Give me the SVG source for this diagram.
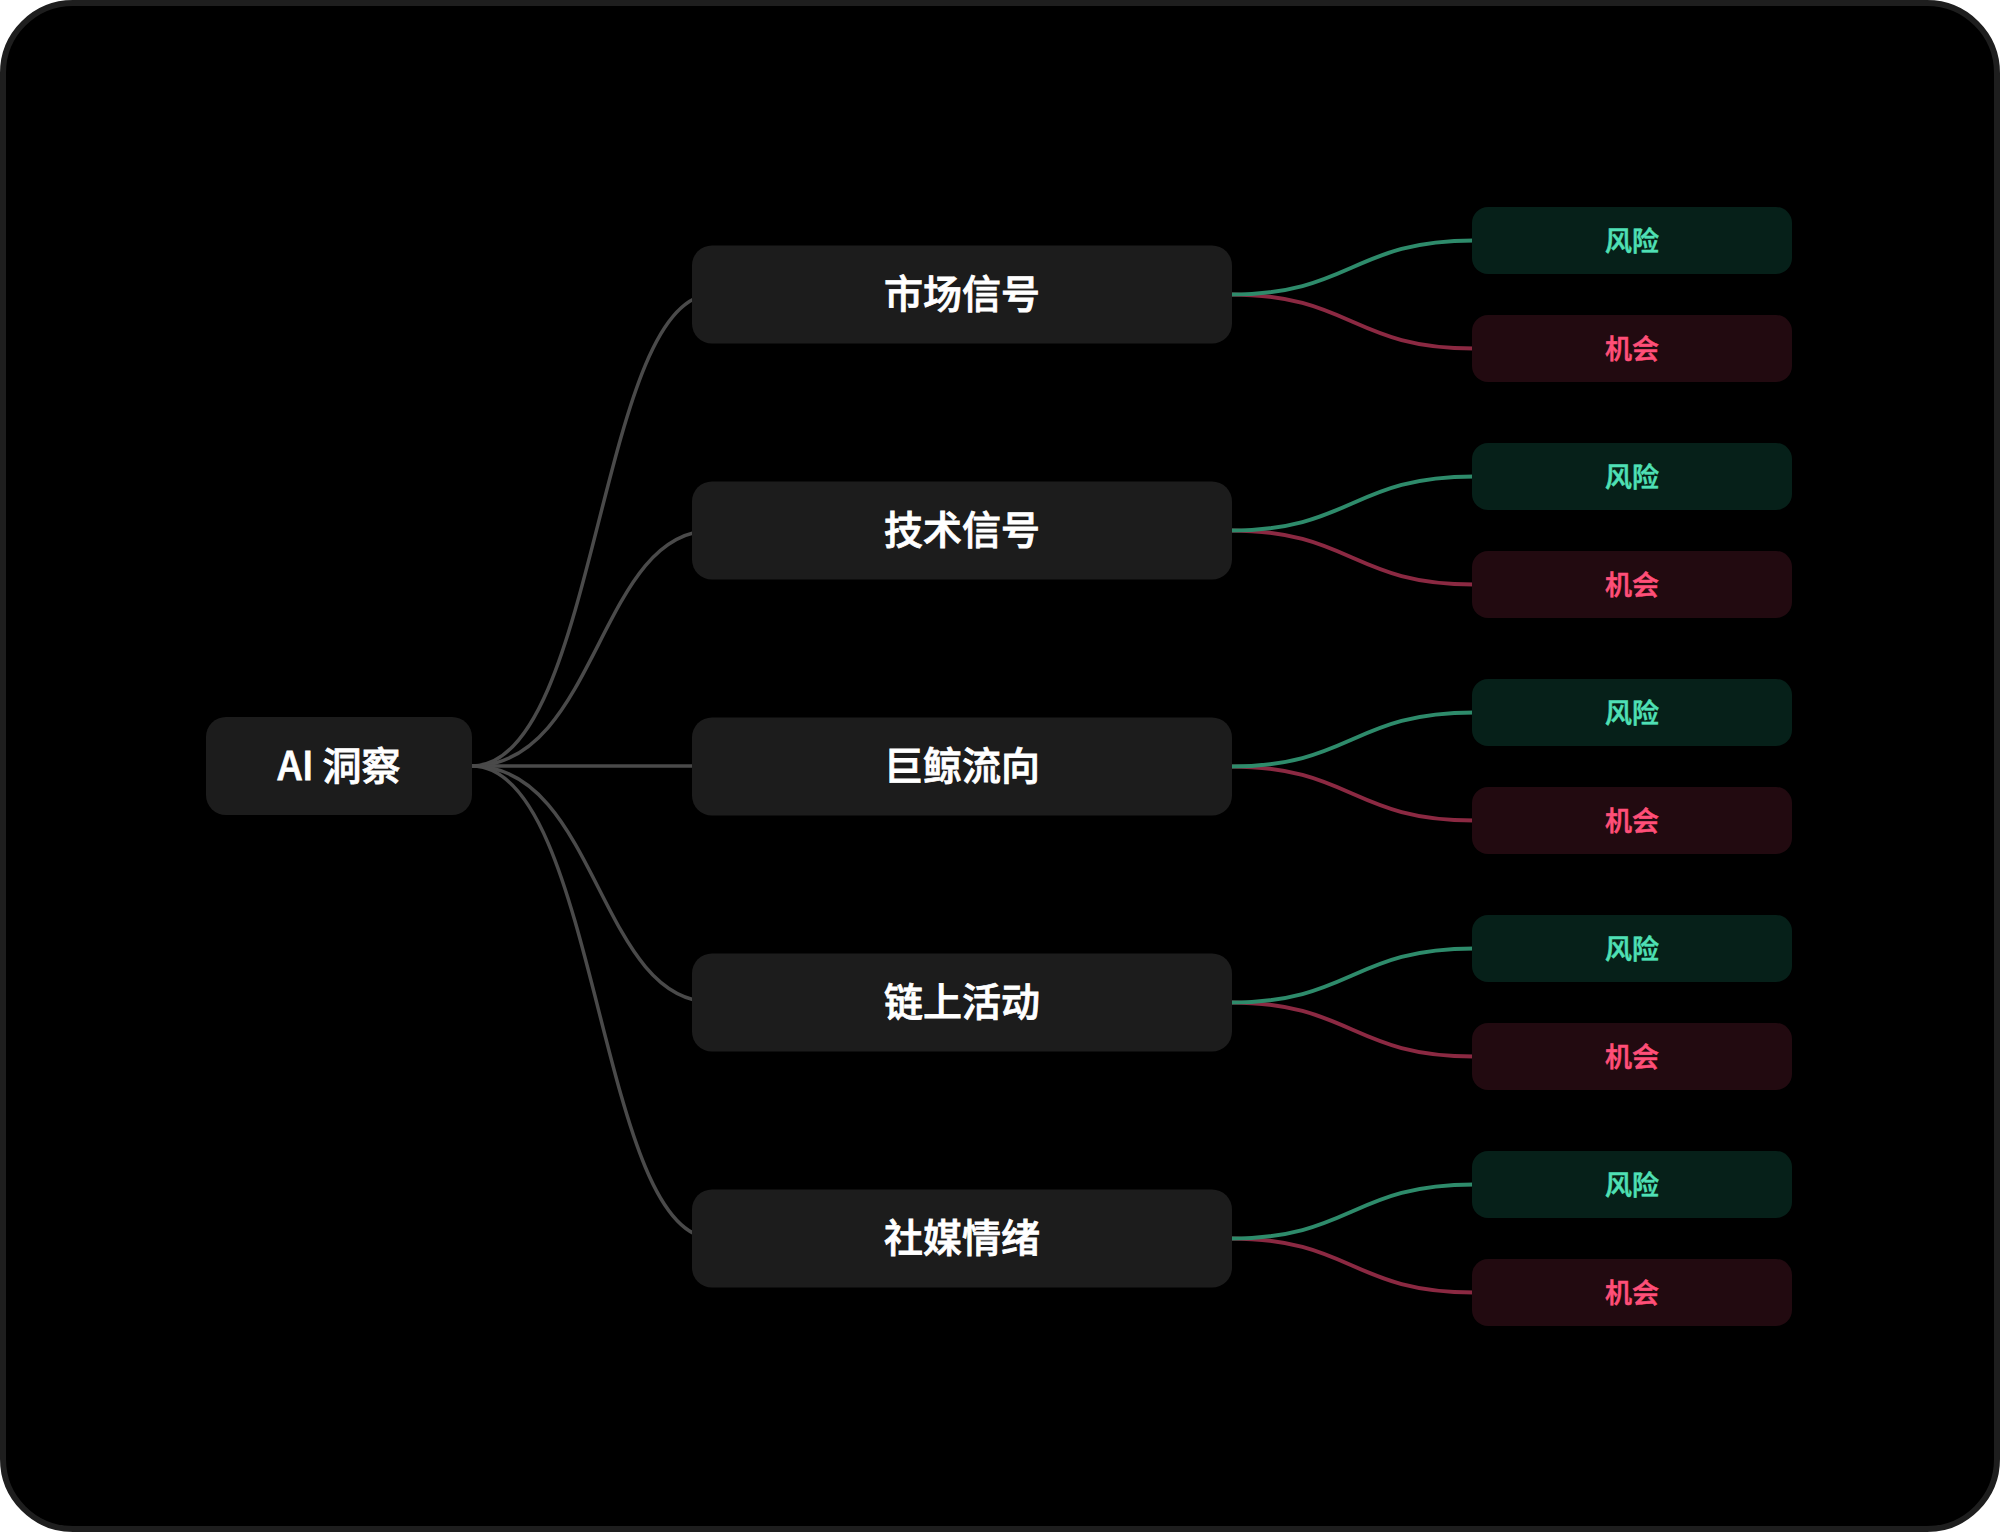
<svg xmlns="http://www.w3.org/2000/svg" width="2000" height="1532" viewBox="0 0 2000 1532">
<style>
.frame{fill:#000;stroke:#1e1e1e;stroke-width:6}
.node{fill:#1c1c1c}
.risk{fill:#062019}
.opp{fill:#220a10}
.t{font-family:"Noto Sans CJK SC","Noto Sans",sans-serif;font-weight:500;text-anchor:middle;dominant-baseline:central;stroke-width:0.8}
.tm{font-size:39px;fill:#ffffff;stroke:#ffffff}
.tr{font-size:27px;fill:#4fe0b5;stroke:#4fe0b5;stroke-width:0.6}
.to{font-size:27px;fill:#ff4f78;stroke:#ff4f78;stroke-width:0.6}
.c{fill:none;stroke:#4a4a4a;stroke-width:3.5}
.cg{fill:none;stroke:#2e8b6b;stroke-width:4}
.cr{fill:none;stroke:#8b2942;stroke-width:4}
</style>
<rect class="frame" x="3" y="3" width="1994" height="1526" rx="70"/>
<g id="connectors">
<path class="c" d="M472,766 C598,766 598,294.5 712,294.5"/>
<path class="c" d="M472,766 C598,766 598,530.5 712,530.5"/>
<path class="c" d="M472,766 L700,766"/>
<path class="c" d="M472,766 C598,766 598,1002 712,1002"/>
<path class="c" d="M472,766 C598,766 598,1238 712,1238"/>
<path class="cr" d="M1230,294.5 C1352,294.5 1352,348.5 1474,348.5"/>
<path class="cg" d="M1230,294.5 C1352,294.5 1352,240.5 1474,240.5"/>
<path class="cr" d="M1230,530.5 C1352,530.5 1352,584.5 1474,584.5"/>
<path class="cg" d="M1230,530.5 C1352,530.5 1352,476.5 1474,476.5"/>
<path class="cr" d="M1230,766.5 C1352,766.5 1352,820.5 1474,820.5"/>
<path class="cg" d="M1230,766.5 C1352,766.5 1352,712.5 1474,712.5"/>
<path class="cr" d="M1230,1002.5 C1352,1002.5 1352,1056.5 1474,1056.5"/>
<path class="cg" d="M1230,1002.5 C1352,1002.5 1352,948.5 1474,948.5"/>
<path class="cr" d="M1230,1238.5 C1352,1238.5 1352,1292.5 1474,1292.5"/>
<path class="cg" d="M1230,1238.5 C1352,1238.5 1352,1184.5 1474,1184.5"/>
</g>
<g id="root">
<rect class="node" x="206" y="717" width="266" height="98" rx="20"/>
<text class="t tm" x="339" y="763">AI 洞察</text>
</g>
<g id="n1">
<rect class="node" x="692" y="245.5" width="540" height="98" rx="20"/>
<text class="t tm" x="962" y="291">市场信号</text>
</g>
<g id="n2">
<rect class="node" x="692" y="481.5" width="540" height="98" rx="20"/>
<text class="t tm" x="962" y="527">技术信号</text>
</g>
<g id="n3">
<rect class="node" x="692" y="717.5" width="540" height="98" rx="20"/>
<text class="t tm" x="962" y="763">巨鲸流向</text>
</g>
<g id="n4">
<rect class="node" x="692" y="953.5" width="540" height="98" rx="20"/>
<text class="t tm" x="962" y="999">链上活动</text>
</g>
<g id="n5">
<rect class="node" x="692" y="1189.5" width="540" height="98" rx="20"/>
<text class="t tm" x="962" y="1235">社媒情绪</text>
</g>
<g id="n1r"><rect class="risk" x="1472" y="207" width="320" height="67" rx="16"/><text class="t tr" x="1632" y="239">风险</text></g>
<g id="n1o"><rect class="opp" x="1472" y="315" width="320" height="67" rx="16"/><text class="t to" x="1632" y="347">机会</text></g>
<g id="n2r"><rect class="risk" x="1472" y="443" width="320" height="67" rx="16"/><text class="t tr" x="1632" y="475">风险</text></g>
<g id="n2o"><rect class="opp" x="1472" y="551" width="320" height="67" rx="16"/><text class="t to" x="1632" y="583">机会</text></g>
<g id="n3r"><rect class="risk" x="1472" y="679" width="320" height="67" rx="16"/><text class="t tr" x="1632" y="711">风险</text></g>
<g id="n3o"><rect class="opp" x="1472" y="787" width="320" height="67" rx="16"/><text class="t to" x="1632" y="819">机会</text></g>
<g id="n4r"><rect class="risk" x="1472" y="915" width="320" height="67" rx="16"/><text class="t tr" x="1632" y="947">风险</text></g>
<g id="n4o"><rect class="opp" x="1472" y="1023" width="320" height="67" rx="16"/><text class="t to" x="1632" y="1055">机会</text></g>
<g id="n5r"><rect class="risk" x="1472" y="1151" width="320" height="67" rx="16"/><text class="t tr" x="1632" y="1183">风险</text></g>
<g id="n5o"><rect class="opp" x="1472" y="1259" width="320" height="67" rx="16"/><text class="t to" x="1632" y="1291">机会</text></g>
</svg>
